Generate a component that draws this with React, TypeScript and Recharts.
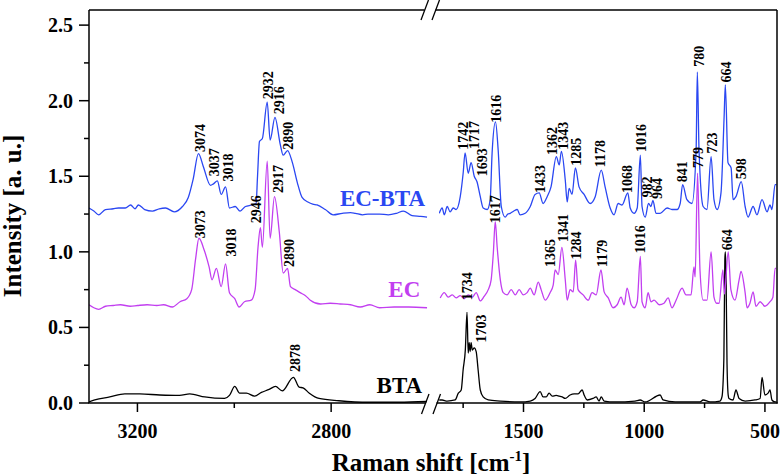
import React from "react";
import { ComposedChart, Line, Scatter, XAxis, YAxis } from "recharts";

const FONT = "'Liberation Serif', 'Times New Roman', serif";
const BLUE = "#2a47f2";
const MAGENTA = "#c23ff0";
const BLACK = "#000000";

// Raman shift (cm-1), intensity (a.u.) — high-wavenumber segment
const ecbtaLeft: number[][] = [
  [3300, 1.29], [3290, 1.27], [3280, 1.245], [3266, 1.28], [3250, 1.285], [3239, 1.29], [3225, 1.29], [3214, 1.31], [3205, 1.285], [3198, 1.31],
  [3185, 1.28], [3169, 1.27], [3155, 1.285], [3142, 1.29], [3124, 1.265], [3107, 1.30], [3095, 1.36], [3085, 1.48], [3074, 1.65], [3064, 1.565],
  [3049, 1.44], [3043, 1.45], [3035, 1.47], [3027, 1.38], [3018, 1.43], [3010, 1.29], [2998, 1.30], [2988, 1.27], [2977, 1.30], [2963, 1.31],
  [2955, 1.32], [2952, 1.50], [2948, 1.73], [2942, 1.75], [2932, 1.99], [2926, 1.74], [2916, 1.89], [2905, 1.71], [2899, 1.64], [2890, 1.67],
  [2880, 1.59], [2870, 1.46], [2860, 1.36], [2848, 1.33], [2838, 1.315], [2829, 1.31], [2812, 1.28], [2796, 1.245], [2777, 1.255], [2760, 1.26],
  [2750, 1.255], [2735, 1.245], [2724, 1.25], [2700, 1.25], [2682, 1.245], [2665, 1.255], [2651, 1.27], [2633, 1.24], [2615, 1.235], [2602, 1.23],
];
const ecLeft: number[][] = [
  [3300, 0.65], [3290, 0.63], [3280, 0.62], [3266, 0.64], [3250, 0.645], [3235, 0.65], [3215, 0.64], [3200, 0.645], [3180, 0.65], [3160, 0.645],
  [3146, 0.65], [3128, 0.635], [3112, 0.67], [3098, 0.69], [3088, 0.75], [3080, 0.95], [3073, 1.09], [3062, 1.01], [3052, 0.90], [3046, 0.815],
  [3037, 0.89], [3027, 0.77], [3018, 0.92], [3010, 0.73], [2999, 0.69], [2990, 0.635], [2979, 0.67], [2965, 0.68], [2957, 0.75], [2951, 1.03],
  [2946, 1.16], [2942, 1.03], [2932, 1.60], [2926, 1.09], [2917, 1.365], [2907, 1.13], [2899, 0.86], [2890, 0.89], [2884, 0.77], [2874, 0.75],
  [2864, 0.73], [2853, 0.71], [2843, 0.68], [2822, 0.655], [2802, 0.66], [2781, 0.655], [2760, 0.65], [2740, 0.635], [2720, 0.65], [2700, 0.63],
  [2670, 0.635], [2640, 0.635], [2602, 0.63],
];
const btaLeft: number[][] = [
  [3300, 0.007], [3288, 0.02], [3257, 0.04], [3226, 0.06], [3195, 0.06], [3154, 0.053], [3113, 0.05], [3092, 0.06], [3061, 0.04], [3020, 0.03],
  [3010, 0.05], [2999, 0.11], [2989, 0.065], [2975, 0.065], [2958, 0.045], [2944, 0.07], [2928, 0.09], [2915, 0.11], [2901, 0.08], [2878, 0.17],
  [2866, 0.105], [2858, 0.10], [2845, 0.065], [2825, 0.03], [2784, 0.015], [2722, 0.005], [2660, 0.005], [2602, 0.01],
];

// low-wavenumber segment
const ecbtaRight: number[][] = [
  [1849, 1.255], [1837, 1.29], [1828, 1.245], [1816, 1.30], [1804, 1.265], [1791, 1.29], [1779, 1.28], [1762, 1.365], [1750, 1.52], [1742, 1.655],
  [1729, 1.52], [1717, 1.59], [1704, 1.50], [1693, 1.465], [1679, 1.365], [1667, 1.29], [1650, 1.28], [1638, 1.345], [1630, 1.655], [1616, 1.86],
  [1605, 1.675], [1592, 1.30], [1576, 1.23], [1565, 1.25], [1555, 1.255], [1540, 1.27], [1526, 1.28], [1514, 1.245], [1493, 1.255], [1472, 1.30],
  [1452, 1.38], [1435, 1.39], [1419, 1.32], [1402, 1.365], [1386, 1.43], [1364, 1.63], [1352, 1.575], [1343, 1.665], [1327, 1.475], [1319, 1.33],
  [1311, 1.42], [1299, 1.38], [1285, 1.555], [1270, 1.43], [1249, 1.38], [1224, 1.32], [1203, 1.365], [1178, 1.54], [1162, 1.43], [1141, 1.29],
  [1125, 1.245], [1108, 1.32], [1092, 1.31], [1068, 1.39], [1058, 1.29], [1042, 1.255], [1029, 1.29], [1016, 1.64], [1009, 1.30], [996, 1.23],
  [982, 1.32], [972, 1.30], [964, 1.34], [951, 1.255], [934, 1.255], [905, 1.29], [885, 1.28], [864, 1.28], [851, 1.32], [841, 1.445],
  [823, 1.345], [802, 1.32], [785, 1.675], [780, 2.19], [773, 1.675], [756, 1.30], [740, 1.28], [723, 1.63], [711, 1.345], [698, 1.28],
  [682, 1.39], [669, 1.895], [664, 2.105], [653, 1.59], [640, 1.555], [632, 1.345], [620, 1.365], [598, 1.465], [582, 1.30], [570, 1.23],
  [549, 1.30], [533, 1.245], [512, 1.345], [491, 1.265], [479, 1.31], [471, 1.28], [458, 1.445], [452, 1.445],
];
const ecRight: number[][] = [
  [1845, 0.695], [1828, 0.73], [1812, 0.70], [1795, 0.715], [1779, 0.695], [1762, 0.71], [1746, 0.69], [1729, 0.715], [1712, 0.70], [1696, 0.73],
  [1679, 0.675], [1663, 0.705], [1646, 0.75], [1634, 0.815], [1625, 0.99], [1617, 1.20], [1609, 1.03], [1596, 0.815], [1584, 0.73], [1568, 0.715],
  [1551, 0.75], [1534, 0.715], [1518, 0.75], [1501, 0.715], [1485, 0.73], [1472, 0.76], [1456, 0.715], [1439, 0.80], [1427, 0.75], [1410, 0.68],
  [1390, 0.73], [1377, 0.78], [1369, 0.88], [1356, 0.85], [1341, 1.03], [1327, 0.815], [1319, 0.68], [1307, 0.75], [1294, 0.735], [1284, 0.945],
  [1274, 0.75], [1253, 0.715], [1232, 0.68], [1216, 0.73], [1199, 0.715], [1179, 0.88], [1166, 0.735], [1149, 0.695], [1129, 0.63], [1112, 0.65],
  [1096, 0.70], [1083, 0.65], [1071, 0.76], [1054, 0.65], [1042, 0.63], [1029, 0.67], [1016, 0.97], [1009, 0.67], [996, 0.63], [984, 0.73],
  [972, 0.67], [959, 0.68], [938, 0.65], [918, 0.66], [901, 0.695], [885, 0.63], [868, 0.68], [843, 0.76], [827, 0.715], [806, 0.715],
  [794, 0.90], [789, 0.835], [779, 1.52], [769, 0.88], [756, 0.68], [740, 0.68], [723, 1.00], [711, 0.70], [700, 0.66], [690, 0.66],
  [674, 0.88], [668, 0.72], [652, 1.00], [641, 0.75], [624, 0.68], [607, 0.815], [599, 0.87], [582, 0.73], [574, 0.63], [562, 0.66],
  [549, 0.735], [537, 0.64], [520, 0.67], [500, 0.64], [479, 0.67], [467, 0.70], [458, 0.89], [454, 0.89],
];
const btaRight: number[][] = [
  [1849, 0.02], [1837, 0.02], [1816, 0.013], [1783, 0.02], [1770, 0.065], [1758, 0.086], [1750, 0.22], [1741, 0.35], [1734, 0.60], [1729, 0.33],
  [1725, 0.40], [1721, 0.34], [1717, 0.40], [1712, 0.35], [1704, 0.365], [1696, 0.34], [1688, 0.22], [1679, 0.086], [1667, 0.04], [1646, 0.02],
  [1596, 0.013], [1514, 0.007], [1472, 0.013], [1452, 0.03], [1431, 0.075], [1419, 0.04], [1406, 0.04], [1394, 0.065], [1381, 0.045], [1365, 0.05],
  [1352, 0.045], [1340, 0.04], [1327, 0.03], [1307, 0.053], [1290, 0.06], [1274, 0.06], [1257, 0.086], [1249, 0.053], [1236, 0.02], [1212, 0.03],
  [1199, 0.04], [1187, 0.013], [1178, 0.04], [1166, 0.013], [1121, 0.007], [1038, 0.013], [1017, 0.02], [996, 0.007], [934, 0.053], [922, 0.02],
  [872, 0.007], [769, 0.007], [756, 0.02], [727, 0.007], [686, 0.013], [678, 0.04], [670, 0.30], [666, 0.95], [664, 1.00], [661, 0.85],
  [657, 0.26], [652, 0.05], [649, 0.03], [632, 0.02], [620, 0.086], [607, 0.03], [582, 0.013], [541, 0.02], [520, 0.03], [512, 0.17],
  [500, 0.053], [487, 0.065], [479, 0.086], [471, 0.02], [458, 0.007], [452, 0.007],
];

// peak labels: [position, intensity at label start, text]
const peakLabelsLeft: [number, number, string][] = [
  [3070, 1.66, "3074"], [3041, 1.50, "3037"], [3012, 1.465, "3018"], [2930, 2.01, "2932"], [2907, 1.91, "2916"], [2889, 1.675, "2890"],
  [3070, 1.09, "3073"], [3006, 0.97, "3018"], [2955, 1.19, "2946"], [2909, 1.39, "2917"], [2887, 0.90, "2890"],
  [2874, 0.205, "2878"],
];
const peakLabelsRight: [number, number, string][] = [
  [1750, 1.675, "1742"], [1704, 1.68, "1717"], [1671, 1.50, "1693"], [1613, 1.855, "1616"], [1431, 1.39, "1433"], [1381, 1.64, "1362"],
  [1336, 1.675, "1343"], [1282, 1.57, "1285"], [1183, 1.56, "1178"], [1071, 1.39, "1068"], [1013, 1.66, "1016"], [988, 1.36, "982"],
  [947, 1.35, "964"], [843, 1.46, "841"], [773, 2.225, "780"], [719, 1.65, "723"], [661, 2.12, "664"], [595, 1.48, "598"],
  [777, 1.555, "779"], [1617, 1.19, "1617"], [1390, 0.90, "1365"], [1336, 1.065, "1341"], [1282, 0.95, "1284"], [1174, 0.90, "1179"],
  [1017, 0.99, "1016"],
  [1733, 0.68, "1734"], [1675, 0.40, "1703"], [657, 1.01, "664"],
];
const seriesNames: [number, number, string, string][] = [
  [2606, 1.305, "EC-BTA", BLUE], [2616, 0.70, "EC", MAGENTA], [2612, 0.066, "BTA", BLACK],
];

const xTicksLeft = [3200, 3000, 2800];
const xMajorLeft = [3200, 2800];
const xTicksRight = [1750, 1500, 1250, 1000, 750, 500];
const xMajorRight = [1500, 1000, 500];
const yTicks = [0, 0.25, 0.5, 0.75, 1, 1.25, 1.5, 1.75, 2, 2.25, 2.5];

const pts = (a: number[][]) => a.map(([x, y]) => ({ x, y }));
const labelPts = (a: [number, number, string][]) => a.map(([x, y, t]) => ({ x, y, t }));
const namePts = seriesNames.map(([x, y, t, c]) => ({ x, y, t, c }));

const PLOT_BOTTOM = 403;

const makeXTick = (major: number[]) => (props: any) => {
  const { x, payload } = props;
  const y = PLOT_BOTTOM;
  const isMajor = major.includes(payload.value);
  return (
    <g>
      <line x1={x} x2={x} y1={y} y2={y + (isMajor ? 9 : 5)} stroke="#000" strokeWidth={1.5} />
      {isMajor && (
        <text x={x} y={y + 35} textAnchor="middle" fontFamily={FONT} fontWeight="bold" fontSize={20} fill="#000">
          {payload.value}
        </text>
      )}
    </g>
  );
};

const YTick = (props: any) => {
  const { x, y, payload } = props;
  const v = payload.value as number;
  const isMajor = Math.abs(v * 2 - Math.round(v * 2)) < 1e-6;
  return (
    <g>
      <line x1={x - (isMajor ? 10 : 5)} x2={x} y1={y} y2={y} stroke="#000" strokeWidth={1.5} />
      {isMajor && (
        <text x={x - 16} y={y + 7} textAnchor="end" fontFamily={FONT} fontWeight="bold" fontSize={20} fill="#000">
          {v.toFixed(1)}
        </text>
      )}
    </g>
  );
};

const PeakLabel = (props: any) => {
  const { cx, cy, payload } = props;
  if (cx == null || cy == null) return <g />;
  return (
    <text
      transform={`rotate(-90 ${cx} ${cy})`}
      x={cx}
      y={cy}
      textAnchor="start"
      dominantBaseline="central"
      fontFamily={FONT}
      fontWeight="bold"
      fontSize={14}
      fill="#000"
    >
      {payload.t}
    </text>
  );
};

const NameLabel = (props: any) => {
  const { cx, cy, payload } = props;
  if (cx == null || cy == null) return <g />;
  return (
    <text x={cx} y={cy} textAnchor="end" fontFamily={FONT} fontWeight="bold" fontSize={23} fill={payload.c}>
      {payload.t}
    </text>
  );
};

const lineProps = { dataKey: "y", dot: false, strokeWidth: 1.3, isAnimationActive: false, type: "monotone" as const, activeDot: false as const };

export default function App() {
  return (
    <div style={{ position: "absolute", left: 0, top: 0, width: 780, height: 476, background: "#fff" }}>
      <ComposedChart width={780} height={476} margin={{ top: 10, right: 3, bottom: 71, left: 0 }}>
        <XAxis
          xAxisId="L"
          type="number"
          dataKey="x"
          domain={[2600, 3300]}
          reversed
          allowDataOverflow
          height={1}
          padding={{ left: 0, right: 349 }}
          ticks={xTicksLeft}
          interval={0}
          tick={makeXTick(xMajorLeft)}
          tickLine={false}
          tickSize={0}
          tickMargin={0}
          axisLine={false}
        />
        <XAxis
          xAxisId="R"
          type="number"
          dataKey="x"
          domain={[450, 1850]}
          reversed
          allowDataOverflow
          height={1}
          padding={{ left: 350, right: 0 }}
          ticks={xTicksRight}
          interval={0}
          tick={makeXTick(xMajorRight)}
          tickLine={false}
          tickSize={0}
          tickMargin={0}
          axisLine={false}
        />
        <YAxis
          type="number"
          dataKey="y"
          domain={[0, 2.6]}
          allowDataOverflow
          width={89}
          ticks={yTicks}
          interval={0}
          tick={<YTick />}
          tickLine={false}
          tickSize={0}
          tickMargin={0}
          axisLine={{ stroke: "#000", strokeWidth: 1.5 }}
        />
        <Line xAxisId="L" data={pts(btaLeft)} stroke={BLACK} {...lineProps} />
        <Line xAxisId="L" data={pts(ecLeft)} stroke={MAGENTA} {...lineProps} />
        <Line xAxisId="L" data={pts(ecbtaLeft)} stroke={BLUE} {...lineProps} />
        <Line xAxisId="R" data={pts(btaRight)} stroke={BLACK} {...lineProps} />
        <Line xAxisId="R" data={pts(ecRight)} stroke={MAGENTA} {...lineProps} />
        <Line xAxisId="R" data={pts(ecbtaRight)} stroke={BLUE} {...lineProps} />
        <Scatter xAxisId="L" data={labelPts(peakLabelsLeft)} dataKey="y" shape={<PeakLabel />} isAnimationActive={false} />
        <Scatter xAxisId="R" data={labelPts(peakLabelsRight)} dataKey="y" shape={<PeakLabel />} isAnimationActive={false} />
        <Scatter xAxisId="L" data={namePts} dataKey="y" shape={<NameLabel />} isAnimationActive={false} />
      </ComposedChart>
      <svg width={780} height={476} style={{ position: "absolute", left: 0, top: 0, pointerEvents: "none" }}>
        <line x1={89} x2={424.5} y1={10} y2={10} stroke="#000" strokeWidth={1.5} />
        <line x1={435.5} x2={777} y1={10} y2={10} stroke="#000" strokeWidth={1.5} />
        <line x1={777} x2={777} y1={10} y2={403.5} stroke="#000" strokeWidth={1.5} />
        <line x1={88.3} x2={425.5} y1={403} y2={403} stroke="#000" strokeWidth={1.5} />
        <line x1={436.5} x2={777.7} y1={403} y2={403} stroke="#000" strokeWidth={1.5} />
        <line x1={421} x2={428.5} y1={20} y2={0} stroke="#000" strokeWidth={1.3} />
        <line x1={432} x2={439.5} y1={20} y2={0} stroke="#000" strokeWidth={1.3} />
        <line x1={421.5} x2={429} y1={414} y2={394} stroke="#000" strokeWidth={1.3} />
        <line x1={433} x2={440.5} y1={414} y2={394} stroke="#000" strokeWidth={1.3} />
        <text
          transform="rotate(-90 21 216)"
          x={21}
          y={216}
          textAnchor="middle"
          fontFamily={FONT}
          fontWeight="bold"
          fontSize={25}
          fill="#000"
        >
          Intensity [a. u.]
        </text>
        <text x={431} y={471} textAnchor="middle" fontFamily={FONT} fontWeight="bold" fontSize={25} fill="#000">
          Raman shift [cm
          <tspan dy={-10} fontSize={15}>-1</tspan>
          <tspan dy={10}>]</tspan>
        </text>
      </svg>
    </div>
  );
}
